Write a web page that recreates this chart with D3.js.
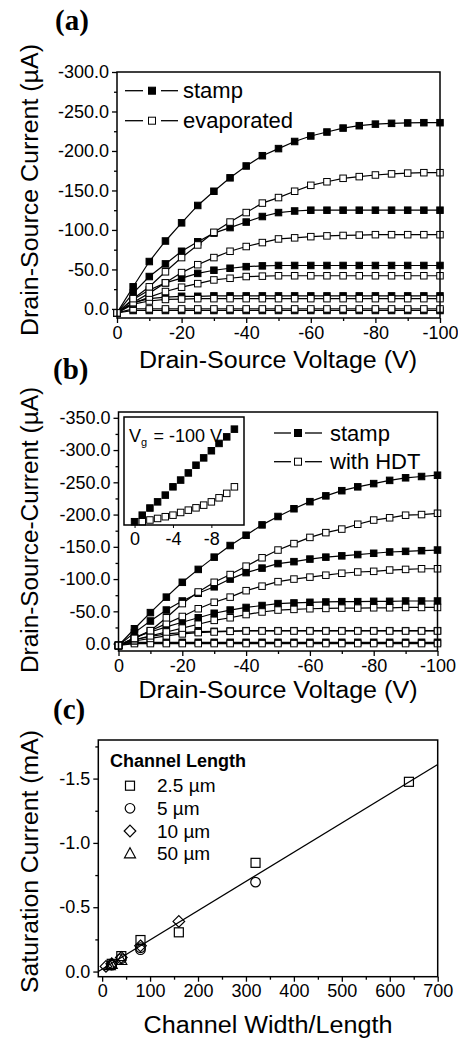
<!DOCTYPE html>
<html><head><meta charset="utf-8">
<script src="https://cdn.jsdelivr.net/npm/d3@7"></script>
<style>body{margin:0;background:#fff}svg{display:block}</style>
</head><body>
<svg id="c" width="458" height="1038"></svg>
<script>
// ---------- DATA ----------
const vds = [0,-5,-10,-15,-20,-25,-30,-35,-40,-45,-50,-55,-60,-65,-70,-75,-80,-85,-90,-95,-100];
// panel (a), current in µA
const aStamp100 = [5,-28,-60,-86,-109,-131,-149,-166,-181,-194,-203,-212,-219,-224,-229,-232,-234,-235,-235.5,-235.8,-235.8];
const aStamp75  = [5,-20,-41,-57,-73,-85,-96,-103,-110,-117,-122,-124,-125,-125,-125,-125,-125,-125,-125,-125,-125];
const aStamp50  = [5,-12,-24,-33,-39,-45,-49,-51.5,-53.5,-54.5,-55,-55,-55,-55,-55,-55,-55,-55,-55,-55,-55];
const aStamp25  = [5,-8,-13,-15,-16,-16,-16.5,-16.5,-16.5,-16.5,-16.5,-16.5,-16.5,-16.5,-16.5,-16.5,-16.5,-16.5,-16.5,-16.5,-16.5];
const aStamp0   = [5,2,2,2,2,2,2,2,2,2,2,2,2,2,2,2,2,2,2,2,2];
const aEvap100  = [5,-13,-28,-47,-65,-81,-97,-110,-122,-134,-141,-149,-156.5,-161,-165.4,-167.5,-169.6,-171,-172,-172.5,-172.5];
const aEvap75   = [5,-8,-20,-33,-46,-56,-65,-73,-79,-84,-88.6,-90,-91.5,-92.5,-93,-93.5,-94,-94,-94,-94,-94];
const aEvap50   = [5,-7,-15,-22,-27.5,-32,-36.7,-38.8,-41,-41.5,-42,-42,-42,-42,-42,-42,-42,-42,-42,-42,-42];
const aEvap25   = [5,-6,-10,-12,-12.5,-13,-13,-13,-13,-13,-13,-13,-13,-13,-13,-13,-13,-13,-13,-13,-13];
const aEvap0    = [5,0,0,0,0,0,0,0,0,0,0,0,0,0,0,0,0,0,0,0,0];
// panel (b), current in µA
const bStamp100 = [3,-23,-48,-72,-95,-115,-134,-152,-168,-184,-197,-209,-220,-229,-237,-243,-248,-253,-257,-259,-261];
const bStamp75  = [3,-17,-35,-52,-66,-78,-88,-100,-110,-117,-124,-127,-131,-134,-136,-138,-140,-142,-143,-144,-145];
const bStamp50  = [3,-9,-18,-26,-33,-40,-47,-52,-56,-59,-62,-63,-64,-64.5,-65,-65,-65.5,-65.5,-66,-66,-66];
const bStamp25  = [3,-6,-11,-15,-17,-18.5,-19,-19.5,-20,-20,-20,-20,-20,-20,-20,-20,-20,-20,-20,-20,-20];
const bStamp0   = [3,-2,-2,-2,-2,-2,-2,-2,-2,-2,-2,-2,-2,-2,-2,-2,-2,-2,-2,-2,-2];
const bHDT100   = [3,-8,-20,-40,-62,-80,-95,-107,-120,-133,-145,-155,-164.6,-172,-177.5,-185,-191.5,-195,-199,-200,-202];
const bHDT75    = [3,-9,-20,-31,-42,-54,-64,-72,-82,-89,-96,-100,-103,-106,-109,-111,-112,-114,-115,-116,-116];
const bHDT50    = [3,-6,-12,-18,-24,-30,-36,-40,-45,-49,-52,-53,-54,-54.5,-55,-55,-55.5,-55.5,-56,-56,-56];
const bHDT25    = [3,-4,-8,-12,-15,-17,-18,-19,-19.5,-19.5,-19.5,-19.5,-19.5,-19.5,-19.5,-19.5,-19.5,-19.5,-19.5,-19.5,-19.5];
const bHDT0     = [3,0,0,0,0,0,0,0,0,0,0,0,0,0,0,0,0,0,0,0,0];
// inset of (b), Vg = -100 V
const insetV     = [0,-0.8,-1.6,-2.4,-3.2,-4.0,-4.8,-5.6,-6.4,-7.2,-8.0,-8.8,-9.6,-10.4];
const insetStamp = [-0.7,-4.1,-7.8,-11,-14.5,-18.8,-22.3,-26,-30,-33.8,-37.5,-41.3,-44.7,-48.7];
const insetHDT   = [-0.5,-0.7,-1.6,-2.4,-3.3,-4.1,-5.5,-6.7,-7.9,-9.3,-11,-13.1,-15.4,-18.8];
// panel (c), saturation current in mA vs W/L
const sqX = [640,320,160,80,40,20];      const sqY = [-1.475,-0.845,-0.305,-0.245,-0.12,-0.06];
const ciX = [320,80,80,40,20];          const ciY = [-0.695,-0.185,-0.17,-0.10,-0.05];
const diX = [160,80,40,20,8];           const diY = [-0.39,-0.20,-0.11,-0.06,-0.04];
const trX = [40,20,16];                 const trY = [-0.09,-0.06,-0.05];
const fitX = [-8,700];                  const fitY = [0.0,-1.61];
// tick labels
const aYTicks = [0,-50,-100,-150,-200,-250,-300];
const bYTicks = [0,-50,-100,-150,-200,-250,-300,-350];
const vTicks = [0,-20,-40,-60,-80,-100];
const insetTicks = [0,-4,-8];
const cYTicks = [0,-0.5,-1.0,-1.5];
const cXTicks = [0,100,200,300,400,500,600,700];

// ---------- DRAW ----------
const svg = d3.select('#c');
const SANS = 'Liberation Sans, Arial, sans-serif';
const SERIF = 'Liberation Serif, Times New Roman, serif';

function frame(g, L, R, T, B) {
  g.append('rect').attr('x',L).attr('y',T).attr('width',R-L).attr('height',B-T)
    .attr('fill','none').attr('stroke','#000').attr('stroke-width',1.5);
}
function axes(g, x, y, xMaj, xMin, yMaj, yMin, xFmt, yFmt, L, B, fs) {
  const ax = g.append('g').attr('transform',`translate(0,${B})`)
    .call(d3.axisBottom(x).tickValues(xMaj).tickSize(5).tickPadding(3).tickFormat(xFmt));
  const axm = g.append('g').attr('transform',`translate(0,${B})`)
    .call(d3.axisBottom(x).tickValues(xMin).tickSize(3).tickFormat(''));
  const ay = g.append('g').attr('transform',`translate(${L},0)`)
    .call(d3.axisLeft(y).tickValues(yMaj).tickSize(5).tickPadding(3).tickFormat(yFmt));
  const aym = g.append('g').attr('transform',`translate(${L},0)`)
    .call(d3.axisLeft(y).tickValues(yMin).tickSize(3).tickFormat(''));
  [ax,axm,ay,aym].forEach(a => {
    a.select('.domain').remove();
    a.selectAll('line').attr('stroke','#000').attr('stroke-width',1.3);
    a.selectAll('text').attr('fill','#000').attr('font-family',SANS).attr('font-size',fs);
  });
  return {ax, ay};
}
function square(g, cx, cy, s, filled) {
  g.append('rect').attr('x',cx-s/2).attr('y',cy-s/2).attr('width',s).attr('height',s)
    .attr('fill',filled?'#000':'#fff').attr('stroke','#000').attr('stroke-width',1);
}
function series(g, x, y, xs, ys, filled, s) {
  const line = d3.line().x((d,i)=>x(xs[i])).y(d=>y(d));
  g.append('path').attr('d',line(ys)).attr('fill','none').attr('stroke','#000').attr('stroke-width',1.2);
  ys.forEach((d,i)=>square(g, x(xs[i]), y(d), s, filled));
}
function label(text, x, y) {
  svg.append('text').attr('x',x).attr('y',y).attr('font-family',SERIF).attr('font-weight','bold')
    .attr('font-size',29).text(text);
}
function xTitle(text, cx, y, len) {
  svg.append('text').attr('x',cx).attr('y',y).attr('text-anchor','middle').attr('font-family',SANS)
    .attr('font-size',23).attr('textLength',len).attr('lengthAdjust','spacingAndGlyphs').text(text);
}
function yTitle(text, x, cy, len) {
  svg.append('text').attr('transform',`translate(${x},${cy}) rotate(-90)`).attr('text-anchor','middle')
    .attr('font-family',SANS).attr('font-size',23).attr('textLength',len).attr('lengthAdjust','spacingAndGlyphs').text(text);
}
const fmt1 = d => d.toFixed(1);
const fmt0 = d => String(d);
const minorOf = (maj) => maj.slice(0,-1).map((d,i)=>(d+maj[i+1])/2);

// ===== Panel (a) =====
{
  const L=117, R=440, T=72, B=318;
  const x = d3.scaleLinear().domain([0,-100]).range([L,R]);
  const y = d3.scaleLinear().domain([11.5,-300]).range([B,T]);
  const g = svg.append('g');
  axes(g, x, y, vTicks, minorOf(vTicks), aYTicks, minorOf(aYTicks), fmt0, fmt1, L, B, 18);
  [[aStamp0,true],[aEvap0,false],[aStamp25,true],[aEvap25,false],[aStamp50,true],[aEvap50,false],
   [aStamp75,true],[aEvap75,false],[aStamp100,true],[aEvap100,false]]
    .forEach(([s,f]) => series(g, x, y, vds, s, f, 6.5));
  frame(g, L, R, T, B);
  // legend
  [[90.7,'stamp',true],[120.7,'evaporated',false]].forEach(([cy,t,f]) => {
    g.append('line').attr('x1',125).attr('x2',143).attr('y1',cy).attr('y2',cy).attr('stroke','#000').attr('stroke-width',1.3);
    g.append('line').attr('x1',161).attr('x2',178).attr('y1',cy).attr('y2',cy).attr('stroke','#000').attr('stroke-width',1.3);
    square(g, 152, cy, 7, f);
    g.append('text').attr('x',183).attr('y',cy+7.5).attr('font-family',SANS).attr('font-size',22).text(t);
  });
  label('(a)', 55, 30);
  xTitle('Drain-Source Voltage (V)', 278, 368, 278);
  yTitle('Drain-Source Current (\u00B5A)', 38, 190, 292);
}

// ===== Panel (b) =====
{
  const L=118.5, R=437.5, T=412, B=651;
  const x = d3.scaleLinear().domain([0,-100]).range([L,R]);
  const y = d3.scaleLinear().domain([11.5,-359]).range([B,T]);
  const g = svg.append('g');
  axes(g, x, y, vTicks, minorOf(vTicks), bYTicks, minorOf(bYTicks), fmt0, fmt1, L, B, 18);
  [[bStamp0,true],[bHDT0,false],[bStamp25,true],[bHDT25,false],[bStamp50,true],[bHDT50,false],
   [bStamp75,true],[bHDT75,false],[bStamp100,true],[bHDT100,false]]
    .forEach(([s,f]) => series(g, x, y, vds, s, f, 6.5));
  frame(g, L, R, T, B);
  // legend
  [[433,'stamp',true],[461.7,'with HDT',false]].forEach(([cy,t,f]) => {
    g.append('line').attr('x1',274).attr('x2',291).attr('y1',cy).attr('y2',cy).attr('stroke','#000').attr('stroke-width',1.3);
    g.append('line').attr('x1',305).attr('x2',322).attr('y1',cy).attr('y2',cy).attr('stroke','#000').attr('stroke-width',1.3);
    square(g, 298, cy, 7, f);
    g.append('text').attr('x',330).attr('y',cy+7.5).attr('font-family',SANS).attr('font-size',22).text(t);
  });
  // inset
  const iL=124, iR=244, iT=417, iB=525;
  const ix = d3.scaleLinear().domain([1.1,-11.4]).range([iL,iR]);
  const iy = d3.scaleLinear().domain([1,-55]).range([iB,iT]);
  const ig = svg.append('g');
  ig.append('rect').attr('x',iL).attr('y',iT).attr('width',iR-iL).attr('height',iB-iT).attr('fill','#fff');
  const iax = ig.append('g').attr('transform',`translate(0,${iB})`)
    .call(d3.axisBottom(ix).tickValues(insetTicks).tickSize(3).tickPadding(4).tickFormat(fmt0));
  iax.select('.domain').remove();
  iax.selectAll('line').attr('stroke','#000');
  iax.selectAll('text').attr('fill','#000').attr('font-family',SANS).attr('font-size',18);
  insetStamp.forEach((d,i)=>square(ig, ix(insetV[i]), iy(d), 6.5, true));
  insetHDT.forEach((d,i)=>{ if(i>0) square(ig, ix(insetV[i]), iy(d), 6.5, false); });
  frame(ig, iL, iR, iT, iB);
  ig.append('text').attr('x',129).attr('y',441.5).attr('font-family',SANS).attr('font-size',18).text('V');
  ig.append('text').attr('x',141).attr('y',446).attr('font-family',SANS).attr('font-size',11).text('g');
  ig.append('text').attr('x',222).attr('y',441.5).attr('text-anchor','end').attr('font-family',SANS)
    .attr('font-size',18).text('= -100 V');
  label('(b)', 53, 379);
  xTitle('Drain-Source Voltage (V)', 278, 698, 279);
  yTitle('Drain-Source-Current (\u00B5A)', 38, 530, 286);
}

// ===== Panel (c) =====
{
  const L=98.3, R=437.7, T=740, B=976.7;
  const x = d3.scaleLinear().domain([-8,700]).range([L,R]);
  const y = d3.scaleLinear().domain([0.04,-1.8]).range([B,T]);
  const g = svg.append('g');
  axes(g, x, y, cXTicks, minorOf(cXTicks), cYTicks, [-0.25,-0.75,-1.25,-1.75], fmt0, fmt1, L, B, 18);
  g.append('path').attr('d', d3.line().x((d,i)=>x(fitX[i])).y(d=>y(d))(fitY))
    .attr('fill','none').attr('stroke','#000').attr('stroke-width',1.3);
  const st = s => s.attr('fill','none').attr('stroke','#000').attr('stroke-width',1.2);
  const mk = {
    sq: (cx,cy) => st(g.append('rect').attr('x',cx-4.5).attr('y',cy-4.5).attr('width',9).attr('height',9)),
    ci: (cx,cy) => st(g.append('circle').attr('cx',cx).attr('cy',cy).attr('r',4.8)),
    di: (cx,cy) => st(g.append('path').attr('d',`M${cx},${cy-5.8}L${cx+5.8},${cy}L${cx},${cy+5.8}L${cx-5.8},${cy}Z`)),
    tr: (cx,cy) => st(g.append('path').attr('d',`M${cx},${cy-5.5}L${cx+5.5},${cy+4.5}L${cx-5.5},${cy+4.5}Z`))
  };
  sqX.forEach((d,i)=>mk.sq(x(d),y(sqY[i])));
  ciX.forEach((d,i)=>mk.ci(x(d),y(ciY[i])));
  diX.forEach((d,i)=>mk.di(x(d),y(diY[i])));
  trX.forEach((d,i)=>mk.tr(x(d),y(trY[i])));
  frame(g, L, R, T, B);
  g.append('text').attr('x',110).attr('y',767).attr('font-family',SANS).attr('font-weight','bold')
    .attr('font-size',18).text('Channel Length');
  [['sq','2.5 \u00B5m',785.7],['ci','5 \u00B5m',808.3],['di','10 \u00B5m',831],['tr','50 \u00B5m',853.3]]
    .forEach(([m,t,cy]) => {
      mk[m](130, cy);
      g.append('text').attr('x',157).attr('y',cy+6.5).attr('font-family',SANS).attr('font-size',19).text(t);
    });
  label('(c)', 53, 719);
  xTitle('Channel Width/Length', 268, 1033, 249);
  yTitle('Saturation Current (mA)', 38, 861.5, 263);
}
</script>
</body></html>
